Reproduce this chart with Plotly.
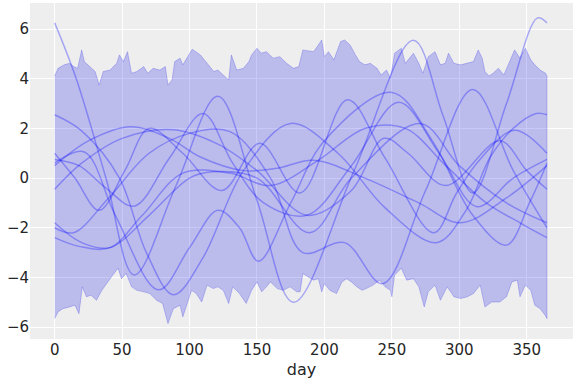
import plotly.graph_objects as go

# ---- HDI band (upper / lower edges) ----
UP_DAYS = [0, 2.5, 7, 11, 14, 17, 20, 22, 26, 30, 33, 36, 41, 46, 48, 51, 54, 57, 61, 66, 69, 73, 78, 82, 84, 87, 89, 93, 95, 98, 102, 108, 113, 118, 121, 125, 129, 131, 135, 140, 144, 146, 150, 153, 157, 162, 167, 172, 177, 181, 184, 192, 198, 200, 203, 207, 212, 215, 219, 223, 226, 230, 234, 239, 242, 246, 249, 252, 257, 260, 264, 266, 270, 273, 277, 282, 286, 289.5, 292, 296, 301, 306, 310.5, 314, 317, 319, 322, 325, 329, 333, 338, 341, 345, 349, 353, 356, 360, 364, 365]
UP_VALS = [4.11, 4.42, 4.56, 4.62, 4.49, 4.42, 5.16, 4.69, 4.49, 4.29, 3.75, 4.29, 4.35, 4.62, 4.96, 4.69, 5.09, 4.22, 4.29, 4.49, 4.22, 4.42, 4.35, 4.49, 3.75, 3.95, 4.69, 4.83, 4.56, 4.83, 5.19, 4.96, 4.62, 4.29, 4.35, 4.15, 3.95, 4.96, 4.35, 4.42, 4.69, 4.96, 5.23, 5.03, 5.09, 4.83, 4.89, 4.62, 4.42, 4.49, 5.16, 5.09, 5.56, 4.89, 5.09, 4.76, 5.50, 5.56, 5.36, 4.96, 4.69, 4.56, 4.62, 4.42, 4.15, 4.35, 4.02, 5.03, 5.23, 4.62, 4.89, 5.03, 4.62, 4.22, 4.89, 5.09, 4.56, 4.62, 5.03, 4.62, 4.56, 4.62, 4.69, 5.16, 4.83, 4.29, 4.11, 4.22, 4.42, 4.15, 4.83, 5.16, 4.83, 5.23, 4.76, 4.56, 4.35, 4.22, 4.11]

LO_DAYS = [0, 2.5, 6, 11, 15, 18, 20.5, 23.5, 27, 31, 35, 38, 43, 47, 49.5, 53, 57, 61, 66, 70.5, 75.5, 80, 84, 88, 93, 95, 98, 101.5, 105, 109, 113, 117.5, 121, 125, 129, 132, 137, 142, 146, 150, 153.5, 157, 160, 165, 169.5, 174.5, 179.5, 182, 184, 188, 192, 195.5, 198, 200, 204, 209, 213, 216.5, 220, 224, 228, 231, 236, 241, 245, 249, 250, 252, 257, 261, 266, 270, 274, 277, 282, 286, 291, 296, 301, 306, 310.5, 315.5, 319, 324, 330, 335, 339, 343, 345, 349, 353, 356, 360, 364, 365]
LO_VALS = [-5.66, -5.39, -5.26, -5.19, -5.12, -5.46, -4.38, -4.78, -4.72, -4.92, -4.52, -4.31, -3.91, -3.63, -4.05, -3.84, -4.38, -4.52, -4.58, -4.65, -4.92, -5.05, -5.86, -5.26, -5.12, -5.59, -5.05, -4.52, -4.65, -4.99, -4.31, -4.45, -4.38, -4.52, -5.05, -4.38, -4.65, -5.05, -4.52, -4.18, -4.58, -4.38, -4.18, -4.45, -4.52, -4.38, -4.58, -4.58, -3.84, -3.98, -4.11, -4.05, -4.58, -4.25, -4.52, -4.65, -4.18, -4.05, -4.18, -4.38, -4.52, -4.45, -4.31, -4.11, -4.38, -4.52, -4.78, -3.91, -3.63, -4.11, -4.05, -4.38, -5.19, -4.58, -4.31, -4.92, -4.38, -4.78, -4.85, -4.78, -4.65, -4.31, -5.19, -4.99, -4.99, -4.78, -4.18, -4.11, -4.78, -4.31, -4.52, -5.12, -5.26, -5.55, -5.66]

# ---- posterior sample curves (key points) ----
A_DAYS = [0, 16, 38, 59, 90, 121, 150, 177, 222, 266, 288, 310, 335, 358, 365]
A_VALS = [6.25, 4.0, 0.0, -3.9, -0.3, 3.3, -0.9, -5.0, 0.3, 5.55, 2.5, -0.6, 3.0, 6.45, 6.25]
B_DAYS = [0, 20, 48, 68, 88, 110, 140, 175, 210, 245, 283, 305, 323, 340, 357, 365]
B_VALS = [2.55, 1.9, 0.0, -3.0, -4.7, -3.2, 0.3, 2.2, 1.0, -1.2, -2.6, -1.3, 0.85, 2.0, 2.6, 2.55]
C_DAYS = [0, 15, 33, 52, 70, 95, 124, 152, 182, 217, 245, 281, 298, 315, 341, 365]
C_VALS = [1.0, 0.0, -1.3, 0.3, 2.0, 1.0, -0.5, 1.4, -0.6, 3.15, 0.8, -2.2, -0.6, 0.73, 1.93, 1.0]
D_DAYS = [0, 25, 56, 85, 108, 140, 165, 192, 230, 270, 301, 335, 365]
D_VALS = [0.5, 1.5, 2.07, 1.6, 0.85, 0.3, 0.4, 0.72, 0.0, -1.0, -1.8, -0.8, 0.5]
E_DAYS = [0, 18, 38, 59, 85, 110, 132, 155, 187, 220, 255, 285, 313, 340, 365]
E_VALS = [0.75, 0.5, -0.4, -1.13, 0.8, 2.6, 0.6, -1.0, -1.5, 0.5, 3.05, 1.0, -1.15, 0.0, 0.75]
F_DAYS = [0, 22, 45, 77, 100, 121, 137, 151, 175, 200, 250, 280, 310, 335, 352, 365]
F_VALS = [0.6, 1.05, -1.5, -4.5, -2.8, -1.3, -2.0, -3.35, -1.0, 1.5, 3.45, 1.5, -1.5, -2.7, -1.0, 0.6]
G_DAYS = [0, 20, 50, 88, 121, 150, 187, 220, 244, 262, 290, 330, 350, 365]
G_VALS = [-0.45, 0.6, 1.6, 1.95, 1.37, 0.3, -1.5, -0.5, 1.6, 1.0, -0.3, 1.5, 0.3, -0.45]
H_DAYS = [0, 20, 41, 70, 100, 117, 150, 189, 220, 271, 300, 335, 365]
H_VALS = [-1.8, -2.6, -2.8, -1.5, 0.0, 0.25, 0.0, -2.2, 0.0, 2.2, 0.5, -1.0, -1.8]
I_DAYS = [0, 14, 40, 70, 100, 130, 160, 184, 215, 243, 275, 310, 340, 365]
I_VALS = [-2.0, -2.2, -0.8, 1.0, 1.8, 1.87, 0.0, -3.0, -2.6, -4.25, -0.5, 3.57, 0.3, -2.0]
J_DAYS = [0, 18, 41, 65, 95, 130, 160, 195, 230, 260, 290, 320, 345, 365]
J_VALS = [-2.4, -2.75, -2.8, -1.5, 0.2, 0.2, -0.3, 0.7, 2.0, 2.0, 0.5, -1.0, -1.8, -2.4]

CURVES = [(A_DAYS, A_VALS), (B_DAYS, B_VALS), (C_DAYS, C_VALS), (D_DAYS, D_VALS),
          (E_DAYS, E_VALS), (F_DAYS, F_VALS), (G_DAYS, G_VALS), (H_DAYS, H_VALS),
          (I_DAYS, I_VALS), (J_DAYS, J_VALS)]

X_TICKS = [0, 50, 100, 150, 200, 250, 300, 350]
Y_TICKS = [-6, -4, -2, 0, 2, 4, 6]

fig = go.Figure()

fig.add_trace(go.Scatter(
    x=UP_DAYS + LO_DAYS[::-1],
    y=UP_VALS + LO_VALS[::-1],
    fill="toself",
    fillcolor="rgba(20,20,230,0.23)",
    line=dict(color="rgba(20,20,230,0.28)", width=0.8),
    mode="lines",
    hoverinfo="skip",
    showlegend=False,
))

for days, vals in CURVES:
    fig.add_trace(go.Scatter(
        x=days, y=vals, mode="lines",
        line=dict(color="rgba(0,0,255,0.3)", width=1.5, shape="spline", smoothing=1.0),
        showlegend=False,
    ))

fig.update_layout(
    width=576, height=384,
    margin=dict(l=30, r=3, t=3, b=45),
    paper_bgcolor="white",
    plot_bgcolor="#eeeeee",
    font=dict(family="DejaVu Sans", size=15, color="#262626"),
    xaxis=dict(
        range=[-18.3, 384.3], tickvals=X_TICKS, showgrid=True, gridcolor="white",
        gridwidth=1.2, zeroline=False, ticks="", showline=False, automargin=False,
        title=dict(text="day", font=dict(size=16), standoff=5),
    ),
    yaxis=dict(
        range=[-6.48, 7.05], tickvals=Y_TICKS, showgrid=True, gridcolor="white",
        gridwidth=1.2, zeroline=False, ticks="", showline=False, automargin=False,
    ),
)

fig.write_html(
    "out.html",
    config={"displayModeBar": False},
    post_script="document.body.style.margin='0';document.body.style.overflow='hidden';",
)
